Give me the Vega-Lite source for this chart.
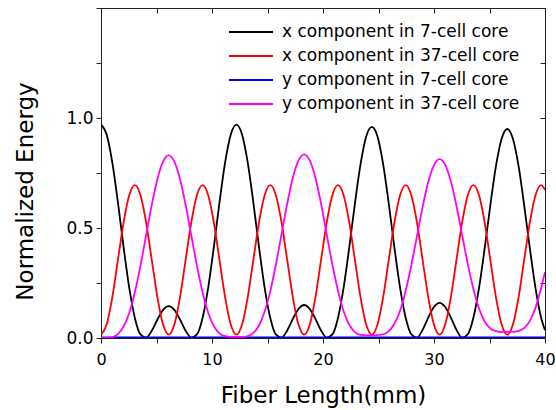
{
  "$schema": "https://vega.github.io/schema/vega-lite/v6.json",
  "width": 444,
  "height": 330,
  "autosize": {"type": "none"},
  "padding": {"left": 101, "top": 8, "right": 11, "bottom": 72},
  "background": "white",
  "config": {
    "view": {"stroke": "#222", "strokeWidth": 1},
    "axis": {"labelFont": "DejaVu Sans", "titleFont": "DejaVu Sans", "labelFontSize": 16, "titleFontSize": 23, "titleFontWeight": "normal", "labelColor": "#000", "titleColor": "#000", "tickColor": "#222", "domainColor": "#222", "grid": false, "tickWidth": 1, "domainWidth": 1, "labelFlush": false}
  },
  "resolve": {"axis": {"x": "independent", "y": "independent"}},
  "layer": [
    {
      "data": {"values": [{"x":0,"e":0.970},{"x":0.508,"e":0.925},{"x":1.017,"e":0.798},{"x":1.525,"e":0.616},{"x":2.033,"e":0.414},{"x":2.542,"e":0.229},{"x":3.05,"e":0.091},{"x":3.558,"e":0.016},{"x":4.067,"e":0.002},{"x":4.575,"e":0.033},{"x":5.083,"e":0.084},{"x":5.592,"e":0.128},{"x":6.1,"e":0.145},{"x":6.608,"e":0.128},{"x":7.117,"e":0.084},{"x":7.625,"e":0.033},{"x":8.133,"e":0.002},{"x":8.642,"e":0.016},{"x":9.15,"e":0.091},{"x":9.658,"e":0.229},{"x":10.167,"e":0.414},{"x":10.675,"e":0.616},{"x":11.183,"e":0.798},{"x":11.692,"e":0.925},{"x":12.2,"e":0.970},{"x":12.708,"e":0.925},{"x":13.217,"e":0.798},{"x":13.725,"e":0.616},{"x":14.233,"e":0.414},{"x":14.742,"e":0.229},{"x":15.25,"e":0.091},{"x":15.758,"e":0.016},{"x":16.267,"e":0.002},{"x":16.775,"e":0.034},{"x":17.283,"e":0.087},{"x":17.792,"e":0.132},{"x":18.3,"e":0.150},{"x":18.808,"e":0.132},{"x":19.317,"e":0.087},{"x":19.825,"e":0.034},{"x":20.333,"e":0.002},{"x":20.842,"e":0.016},{"x":21.35,"e":0.091},{"x":21.858,"e":0.229},{"x":22.367,"e":0.412},{"x":22.875,"e":0.611},{"x":23.383,"e":0.790},{"x":23.892,"e":0.916},{"x":24.4,"e":0.960},{"x":24.908,"e":0.916},{"x":25.417,"e":0.790},{"x":25.925,"e":0.611},{"x":26.433,"e":0.412},{"x":26.942,"e":0.229},{"x":27.45,"e":0.092},{"x":27.958,"e":0.017},{"x":28.467,"e":0.002},{"x":28.975,"e":0.037},{"x":29.483,"e":0.093},{"x":29.992,"e":0.141},{"x":30.5,"e":0.160},{"x":31.008,"e":0.141},{"x":31.517,"e":0.093},{"x":32.025,"e":0.037},{"x":32.533,"e":0.002},{"x":33.042,"e":0.017},{"x":33.55,"e":0.092},{"x":34.058,"e":0.228},{"x":34.567,"e":0.408},{"x":35.075,"e":0.603},{"x":35.583,"e":0.782},{"x":36.092,"e":0.906},{"x":36.6,"e":0.950},{"x":37.108,"e":0.906},{"x":37.617,"e":0.782},{"x":38.125,"e":0.603},{"x":38.633,"e":0.408},{"x":39.142,"e":0.228},{"x":39.65,"e":0.092},{"x":40,"e":0.035}]},
      "mark": {"type": "line", "interpolate": "monotone", "strokeWidth": 1.8, "clip": true},
      "encoding": {
        "x": {"field": "x", "type": "quantitative", "scale": {"domain": [0, 40], "nice": false},
          "axis": {"orient": "bottom", "values": [0,5,10,15,20,25,30,35,40], "labelExpr": "datum.value % 10 == 0 ? datum.label : ''", "tickSize": 5, "labelPadding": 8, "title": "Fiber Length(mm)", "titleX": 222, "titleY": 64, "titleBaseline": "alphabetic", "titleAlign": "center"}},
        "y": {"field": "e", "type": "quantitative", "scale": {"domain": [0, 1.5], "nice": false},
          "axis": {"orient": "left", "values": [0,0.25,0.5,0.75,1,1.25,1.5], "labelExpr": "(datum.value == 0 || datum.value == 0.5 || datum.value == 1) ? format(datum.value, '.1f') : ''", "labelFontSize": 17, "tickSize": 5, "labelPadding": 3, "title": "Normalized Energy", "titleX": -69, "titleY": 183, "titleAngle": 270, "titleBaseline": "alphabetic", "titleAlign": "center"}},
        "color": {"datum": "x component in 7-cell core", "type": "nominal",
          "scale": {"domain": ["x component in 7-cell core", "x component in 37-cell core", "y component in 7-cell core", "y component in 37-cell core"], "range": ["#000000", "#ff0000", "#0000ff", "#ff00ff"]},
          "legend": {"orient": "none", "legendX": 127, "legendY": 12, "title": null, "padding": 0, "symbolType": "stroke", "symbolSize": 1936, "symbolStrokeWidth": 2, "labelFont": "DejaVu Sans", "labelFontSize": 17, "labelColor": "#000", "clipHeight": 24, "rowPadding": 0, "labelOffset": 8, "labelLimit": 400}}
      }
    },
    {
      "data": {"values": [{"x":0,"e":0.015},{"x":0.508,"e":0.061},{"x":1.017,"e":0.185},{"x":1.525,"e":0.355},{"x":2.033,"e":0.525},{"x":2.542,"e":0.649},{"x":3.05,"e":0.695},{"x":3.558,"e":0.649},{"x":4.067,"e":0.525},{"x":4.575,"e":0.355},{"x":5.083,"e":0.185},{"x":5.592,"e":0.061},{"x":6.1,"e":0.015},{"x":6.608,"e":0.061},{"x":7.117,"e":0.185},{"x":7.625,"e":0.355},{"x":8.133,"e":0.525},{"x":8.642,"e":0.649},{"x":9.15,"e":0.695},{"x":9.658,"e":0.649},{"x":10.167,"e":0.525},{"x":10.675,"e":0.355},{"x":11.183,"e":0.185},{"x":11.692,"e":0.061},{"x":12.2,"e":0.015},{"x":12.708,"e":0.061},{"x":13.217,"e":0.185},{"x":13.725,"e":0.355},{"x":14.233,"e":0.525},{"x":14.742,"e":0.649},{"x":15.25,"e":0.695},{"x":15.758,"e":0.649},{"x":16.267,"e":0.525},{"x":16.775,"e":0.355},{"x":17.283,"e":0.185},{"x":17.792,"e":0.061},{"x":18.3,"e":0.015},{"x":18.808,"e":0.061},{"x":19.317,"e":0.185},{"x":19.825,"e":0.355},{"x":20.333,"e":0.525},{"x":20.842,"e":0.649},{"x":21.35,"e":0.695},{"x":21.858,"e":0.649},{"x":22.367,"e":0.525},{"x":22.875,"e":0.355},{"x":23.383,"e":0.185},{"x":23.892,"e":0.061},{"x":24.4,"e":0.015},{"x":24.908,"e":0.061},{"x":25.417,"e":0.185},{"x":25.925,"e":0.355},{"x":26.433,"e":0.525},{"x":26.942,"e":0.649},{"x":27.45,"e":0.695},{"x":27.958,"e":0.649},{"x":28.467,"e":0.525},{"x":28.975,"e":0.355},{"x":29.483,"e":0.185},{"x":29.992,"e":0.061},{"x":30.5,"e":0.015},{"x":31.008,"e":0.061},{"x":31.517,"e":0.185},{"x":32.025,"e":0.355},{"x":32.533,"e":0.525},{"x":33.042,"e":0.649},{"x":33.55,"e":0.695},{"x":34.058,"e":0.649},{"x":34.567,"e":0.525},{"x":35.075,"e":0.355},{"x":35.583,"e":0.185},{"x":36.092,"e":0.061},{"x":36.6,"e":0.015},{"x":37.108,"e":0.061},{"x":37.617,"e":0.185},{"x":38.125,"e":0.355},{"x":38.633,"e":0.525},{"x":39.142,"e":0.649},{"x":39.65,"e":0.695},{"x":40,"e":0.673}]},
      "mark": {"type": "line", "interpolate": "monotone", "strokeWidth": 1.8, "clip": true},
      "encoding": {
        "x": {"field": "x", "type": "quantitative", "scale": {"domain": [0, 40], "nice": false}, "axis": null},
        "y": {"field": "e", "type": "quantitative", "scale": {"domain": [0, 1.5], "nice": false}, "axis": null},
        "color": {"datum": "x component in 37-cell core", "type": "nominal"}
      }
    },
    {
      "data": {"values": [{"x":0,"e":0.003},{"x":10,"e":0.003},{"x":20,"e":0.003},{"x":30,"e":0.003},{"x":40,"e":0.003}]},
      "mark": {"type": "line", "strokeWidth": 1.8, "clip": true},
      "encoding": {
        "x": {"field": "x", "type": "quantitative", "scale": {"domain": [0, 40], "nice": false}, "axis": null},
        "y": {"field": "e", "type": "quantitative", "scale": {"domain": [0, 1.5], "nice": false}, "axis": null},
        "color": {"datum": "y component in 7-cell core", "type": "nominal"}
      }
    },
    {
      "data": {"values": [{"x":0,"e":0.000},{"x":0.508,"e":0.001},{"x":1.017,"e":0.004},{"x":1.525,"e":0.018},{"x":2.033,"e":0.052},{"x":2.542,"e":0.114},{"x":3.05,"e":0.208},{"x":3.558,"e":0.329},{"x":4.067,"e":0.467},{"x":4.575,"e":0.605},{"x":5.083,"e":0.723},{"x":5.592,"e":0.802},{"x":6.1,"e":0.830},{"x":6.608,"e":0.802},{"x":7.117,"e":0.723},{"x":7.625,"e":0.605},{"x":8.133,"e":0.467},{"x":8.642,"e":0.329},{"x":9.15,"e":0.208},{"x":9.658,"e":0.115},{"x":10.167,"e":0.054},{"x":10.675,"e":0.021},{"x":11.183,"e":0.008},{"x":11.692,"e":0.005},{"x":12.2,"e":0.005},{"x":12.708,"e":0.005},{"x":13.217,"e":0.009},{"x":13.725,"e":0.023},{"x":14.233,"e":0.057},{"x":14.742,"e":0.119},{"x":15.25,"e":0.213},{"x":15.758,"e":0.334},{"x":16.267,"e":0.472},{"x":16.775,"e":0.610},{"x":17.283,"e":0.728},{"x":17.792,"e":0.807},{"x":18.3,"e":0.835},{"x":18.808,"e":0.807},{"x":19.317,"e":0.728},{"x":19.825,"e":0.610},{"x":20.333,"e":0.472},{"x":20.842,"e":0.335},{"x":21.35,"e":0.215},{"x":21.858,"e":0.122},{"x":22.367,"e":0.060},{"x":22.875,"e":0.027},{"x":23.383,"e":0.014},{"x":23.892,"e":0.012},{"x":24.4,"e":0.012},{"x":24.908,"e":0.013},{"x":25.417,"e":0.017},{"x":25.925,"e":0.031},{"x":26.433,"e":0.065},{"x":26.942,"e":0.124},{"x":27.45,"e":0.215},{"x":27.958,"e":0.331},{"x":28.467,"e":0.463},{"x":28.975,"e":0.596},{"x":29.483,"e":0.709},{"x":29.992,"e":0.785},{"x":30.5,"e":0.813},{"x":31.008,"e":0.787},{"x":31.517,"e":0.712},{"x":32.025,"e":0.600},{"x":32.533,"e":0.469},{"x":33.042,"e":0.337},{"x":33.55,"e":0.223},{"x":34.058,"e":0.134},{"x":34.567,"e":0.075},{"x":35.075,"e":0.043},{"x":35.583,"e":0.031},{"x":36.092,"e":0.027},{"x":36.6,"e":0.028},{"x":37.108,"e":0.028},{"x":37.617,"e":0.032},{"x":38.125,"e":0.045},{"x":38.633,"e":0.078},{"x":39.142,"e":0.137},{"x":39.65,"e":0.227},{"x":40,"e":0.300}]},
      "mark": {"type": "line", "interpolate": "monotone", "strokeWidth": 1.8, "clip": true},
      "encoding": {
        "x": {"field": "x", "type": "quantitative", "scale": {"domain": [0, 40], "nice": false}, "axis": null},
        "y": {"field": "e", "type": "quantitative", "scale": {"domain": [0, 1.5], "nice": false}, "axis": null},
        "color": {"datum": "y component in 37-cell core", "type": "nominal"}
      }
    },
    {
      "data": {"values": [{"x": 0, "e": 0}, {"x": 40, "e": 1.5}]},
      "mark": {"type": "point", "opacity": 0},
      "encoding": {
        "x": {"field": "x", "type": "quantitative", "scale": {"domain": [0, 40], "nice": false},
          "axis": {"orient": "top", "values": [0,5,10,15,20,25,30,35,40], "labels": false, "tickSize": -5, "domain": false, "title": null}},
        "y": {"field": "e", "type": "quantitative", "scale": {"domain": [0, 1.5], "nice": false},
          "axis": {"orient": "right", "values": [0,0.25,0.5,0.75,1,1.25,1.5], "labels": false, "tickSize": -5, "domain": false, "title": null}}
      }
    }
  ]
}
